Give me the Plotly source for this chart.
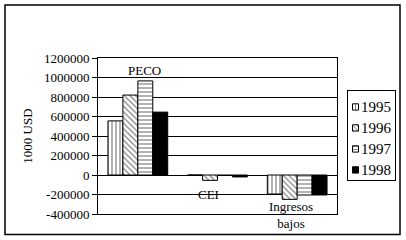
import plotly.graph_objects as go

categories = ["PECO", "CEI", "Ingresos bajos"]
years = ["1995", "1996", "1997", "1998"]
v1995 = [555000, 0, -195000]
v1996 = [820000, -55000, -250000]
v1997 = [965000, -5000, -205000]
v1998 = [645000, -20000, -205000]
series = [v1995, v1996, v1997, v1998]
patterns = ["|", "\\", "-", ""]
yticks = [-400000, -200000, 0, 200000, 400000, 600000, 800000, 1000000, 1200000]

FONT = "Liberation Serif, Times New Roman, serif"
W, H = 406, 240


def px_x(p):
    return p / W


def px_y(p):
    return (H - p) / H


def make_marker(pat, size=4):
    if pat:
        return dict(color="white", line=dict(color="black", width=1),
                    pattern=dict(shape=pat, fgcolor="black", bgcolor="white",
                                 size=size, solidity=0.3, fillmode="overlay"))
    return dict(color="black", line=dict(color="black", width=1))


fig = go.Figure()
for yr, vals, pat in zip(years, series, patterns):
    fig.add_trace(go.Bar(x=categories, y=vals, name=yr, marker=make_marker(pat),
                         showlegend=False))

# custom legend drawn on a small auxiliary axis pair
for i, (yr, pat) in enumerate(zip(years, patterns)):
    fig.add_trace(go.Bar(x=[6], y=[yr], base=[4.5], orientation="h", width=0.3,
                         marker=make_marker(pat, size=3), xaxis="x2", yaxis="y2",
                         showlegend=False, hoverinfo="skip"))
    fig.add_annotation(x=10.5, y=i, xref="x2", yref="y2", text=yr,
                       xanchor="left", yanchor="middle", showarrow=False,
                       font=dict(size=15, family=FONT))

fig.update_layout(
    width=W, height=H,
    margin=dict(l=0, r=0, t=0, b=0),
    paper_bgcolor="white", plot_bgcolor="white",
    barmode="group", bargap=0.25, bargroupgap=0,
    font=dict(family=FONT, size=13, color="black"),
    showlegend=False,
    xaxis=dict(domain=[px_x(98), px_x(337)], showticklabels=False, ticks="",
               showgrid=False, automargin=False,
               showline=True, linecolor="black", linewidth=1, mirror=True,
               zeroline=False),
    yaxis=dict(domain=[px_y(214), px_y(58)], automargin=False,
               range=[-400000, 1200000], tickvals=yticks,
               ticktext=[str(v) for v in yticks],
               ticks="outside", ticklen=5, tickcolor="black",
               showgrid=True, gridcolor="black", gridwidth=1,
               showline=True, linecolor="black", linewidth=1, mirror=True,
               zeroline=True, zerolinecolor="black", zerolinewidth=1,
               title=dict(text="1000 USD", standoff=8,
                          font=dict(size=13, family=FONT))),
    xaxis2=dict(domain=[px_x(348), px_x(395)], range=[0, 47],
                anchor="y2", showticklabels=False, ticks="", showgrid=False,
                zeroline=False, showline=True, linecolor="black", mirror=True,
                fixedrange=True, automargin=False),
    yaxis2=dict(domain=[px_y(180), px_y(91)], anchor="x2",
                type="category", categoryorder="array", categoryarray=years,
                range=[3.48, -0.76], showticklabels=False, ticks="",
                showgrid=False, zeroline=False, showline=True,
                linecolor="black", mirror=True, fixedrange=True,
                automargin=False),
)

# category labels
fig.add_annotation(x="PECO", y=1070000, text="PECO", showarrow=False,
                   xshift=7, font=dict(size=13, family=FONT))
fig.add_annotation(x="CEI", y=-195000, text="CEI", showarrow=False,
                   xshift=-9, font=dict(size=13, family=FONT))
fig.add_annotation(x="Ingresos bajos", y=px_y(214.5), yref="paper",
                   text="Ingresos<br>bajos", yanchor="middle",
                   showarrow=False, xshift=-6, font=dict(size=13, family=FONT))

# outer border
fig.add_shape(type="rect", xref="paper", yref="paper",
              x0=px_x(5), x1=px_x(400), y0=px_y(234.5), y1=px_y(5),
              line=dict(color="black", width=1.5), layer="below")

fig.write_html("out.html")
